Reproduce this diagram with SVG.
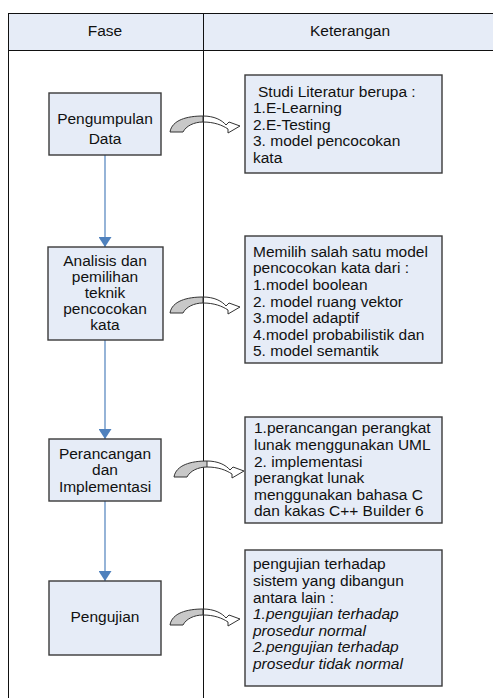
<svg xmlns="http://www.w3.org/2000/svg" width="493" height="698" viewBox="0 0 493 698">
<style>
text{font-family:"Liberation Sans",Arial,sans-serif;font-size:15.5px;fill:#111}
.c{text-anchor:middle}
.box{fill:#E6ECF7;stroke:#3a3a3a;stroke-width:1.4}
.grid{stroke:#111;stroke-width:1;fill:none}
.flow{stroke:#4F81BD;stroke-width:1.2;fill:none}
.it{font-style:italic}
</style>
<defs>
<marker id="ah" markerWidth="10" markerHeight="13" refX="10" refY="6.5" orient="auto" markerUnits="userSpaceOnUse">
<path d="M0,0 L10,6.5 L0,13 Z" fill="#4F81BD"/>
</marker>
<g id="curve">
<path d="M-33,15 C-31,3 -16,-1 0,-1 L0,5 C-9,5 -17,9 -20,15 Z" fill="#C8C8C8" stroke="#333" stroke-width="1"/>
<path d="M0,-1 C11,-1 19,3 23,8 L26,5 L37,9 L25,16 L25,12 C19,8 11,5 0,5" fill="none" stroke="#333" stroke-width="1"/>
</g>
</defs>
<g id="table">
<rect x="8" y="13" width="486" height="37" fill="#E6ECF7"/>
<line class="grid" x1="8" y1="13.5" x2="493" y2="13.5"/>
<line class="grid" x1="8" y1="50.5" x2="493" y2="50.5"/>
<line class="grid" x1="8.5" y1="13" x2="8.5" y2="698"/>
<line class="grid" x1="203.5" y1="13" x2="203.5" y2="698"/>
<text class="c" x="105" y="36">Fase</text>
<text class="c" x="350" y="36">Keterangan</text>
</g>
<g id="connectors">
<line class="flow" x1="105" y1="155" x2="105" y2="247" marker-end="url(#ah)"/>
<line class="flow" x1="105" y1="340" x2="105" y2="439" marker-end="url(#ah)"/>
<line class="flow" x1="105" y1="501" x2="105" y2="581" marker-end="url(#ah)"/>
<use href="#curve" transform="translate(203,117)"/>
<use href="#curve" transform="translate(203,298)"/>
<use href="#curve" transform="translate(207,462)"/>
<use href="#curve" transform="translate(203,610)"/>
</g>
<g id="pengumpulan">
<rect class="box" x="49" y="93" width="112" height="62"/>
<text class="c" x="105" y="123.5">Pengumpulan</text>
<text class="c" x="105" y="143.5">Data</text>
</g>
<g id="analisis">
<rect class="box" x="48" y="247" width="115" height="93"/>
<text class="c" x="105" y="266">Analisis dan</text>
<text class="c" x="105" y="282">pemilihan</text>
<text class="c" x="105" y="298">teknik</text>
<text class="c" x="105" y="314">pencocokan</text>
<text class="c" x="105" y="330">kata</text>
</g>
<g id="perancangan">
<rect class="box" x="49" y="439" width="112" height="62"/>
<text class="c" x="105" y="458.5">Perancangan</text>
<text class="c" x="105" y="475">dan</text>
<text class="c" x="105" y="491.5">Implementasi</text>
</g>
<g id="pengujian">
<rect class="box" x="49" y="581" width="112" height="74"/>
<text class="c" x="105" y="621.5">Pengujian</text>
</g>
<g id="ket1">
<rect class="box" x="245" y="75" width="197" height="98"/>
<text x="258" y="96.5">Studi Literatur berupa :</text>
<text x="253" y="113">1.E-Learning</text>
<text x="253" y="129.5">2.E-Testing</text>
<text x="253" y="146">3. model pencocokan</text>
<text x="253" y="162.5">kata</text>
</g>
<g id="ket2">
<rect class="box" x="245" y="236" width="197" height="127"/>
<text x="253" y="256.7">Memilih salah satu model</text>
<text x="253" y="273.3">pencocokan kata dari :</text>
<text x="253" y="289.9">1.model boolean</text>
<text x="253" y="306.5">2. model ruang vektor</text>
<text x="253" y="323.1">3.model adaptif</text>
<text x="253" y="339.7">4.model probabilistik dan</text>
<text x="253" y="356.3">5. model semantik</text>
</g>
<g id="ket3">
<rect class="box" x="245" y="417" width="197" height="106"/>
<text x="254" y="433.3">1.perancangan perangkat</text>
<text x="254" y="449.9">lunak menggunakan UML</text>
<text x="254" y="466.5">2. implementasi</text>
<text x="254" y="483.1">perangkat lunak</text>
<text x="254" y="499.7">menggunakan bahasa C</text>
<text x="254" y="516.3">dan kakas C++ Builder 6</text>
</g>
<g id="ket4">
<rect class="box" x="245" y="550" width="197" height="136"/>
<text x="253" y="569.3">pengujian terhadap</text>
<text x="253" y="585.9">sistem yang dibangun</text>
<text x="253" y="602.5">antara lain :</text>
<text class="it" x="253" y="619.1">1.pengujian terhadap</text>
<text class="it" x="253" y="635.7">prosedur normal</text>
<text class="it" x="253" y="652.3">2.pengujian terhadap</text>
<text class="it" x="253" y="668.9">prosedur tidak normal</text>
</g>
</svg>
